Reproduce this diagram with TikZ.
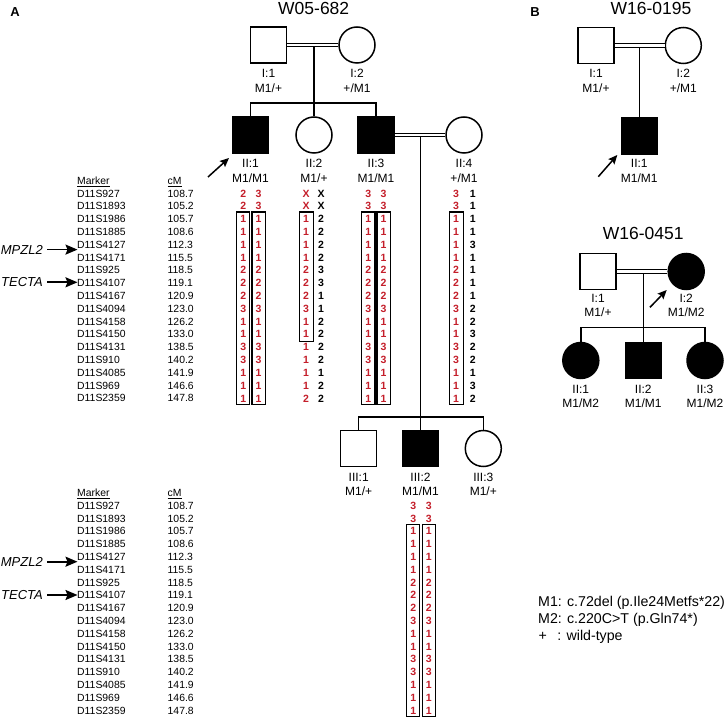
\documentclass[tikz,border=0pt]{standalone}
\usepackage{fontspec}
\setmainfont{Liberation Sans}
\usetikzlibrary{arrows.meta,calc}
\definecolor{alred}{RGB}{196,30,42}
\begin{document}
\begin{tikzpicture}[x=1pt,y=-1pt,
  sq/.style={draw, line width=1.5pt, rectangle, minimum size=36pt, inner sep=0pt},
  ci/.style={draw, line width=1.5pt, circle, minimum size=36pt, inner sep=0pt},
  aff/.style={fill=black},
  ln/.style={line width=1.5pt},
  mar/.style={double, double distance=2.2pt, line width=1.2pt},
  lb/.style={font=\fontsize{12}{14}\selectfont, inner sep=0pt, text height=8.6pt, text depth=0pt},
  mk/.style={font=\fontsize{10.4}{12}\selectfont, inner sep=0pt, anchor=west, text height=7.45pt, text depth=0pt},
  ar/.style={font=\fontsize{10.5}{12}\selectfont\bfseries, inner sep=0pt, text height=7.5pt, text depth=0pt, text=alred},
  ab/.style={font=\fontsize{10.5}{12}\selectfont\bfseries, inner sep=0pt, text height=7.5pt, text depth=0pt, text=black},
  hbox/.style={draw, line width=1.4pt},
  pa/.style={line width=1.5pt, -{Stealth[length=9pt,width=8pt,inset=1.5pt]}},
  ga/.style={line width=1.8pt, -{Stealth[length=12pt,width=10pt,inset=2pt]}},
  gene/.style={font=\fontsize{13}{15}\selectfont\itshape, inner sep=0pt, anchor=east, text height=9.3pt, text depth=0pt},
  ttl/.style={font=\fontsize{17.5}{20}\selectfont, inner sep=0pt, text height=12.5pt, text depth=0pt},
  pl/.style={font=\fontsize{13}{15}\selectfont\bfseries, inner sep=0pt, text height=9.4pt, text depth=0pt},
  lg/.style={font=\fontsize{14.2}{16}\selectfont, anchor=west, inner sep=0pt, text height=10.2pt, text depth=0pt}
]
\useasboundingbox (0,0) rectangle (726,719);

% ---------------- Panel A ----------------
\node[pl] (A) at (15,12) {A};
\node[ttl] (tA) at (313.7,8.7) {W05-682};

% generation I
\node[sq] (a11) at (268.5,45) {};
\node[ci] (a12) at (357,45) {};
\coordinate (am1) at (314,45);
\coordinate (as1) at (314,103);
\draw[ln] (am1) -- (as1);
\draw[mar] (a11.east) -- (a12.west);
\node[lb] (a11l) at (268.5,73.3) {I:1};
\node[lb] (a11g) at (268.5,88.3) {M1/+};
\node[lb] (a12l) at (357,73.3) {I:2};
\node[lb] (a12g) at (357,88.3) {+/M1};

% generation II
\node[sq,aff] (a21) at (250.5,135) {};
\node[ci] (a22) at (314,135) {};
\node[sq,aff] (a23) at (376,135) {};
\node[ci] (a24) at (464,135) {};
\draw[ln] (a21.north) |- (as1) -| (a23.north);
\draw[ln] (as1) -- (a22.north);
\coordinate (am2) at (420.5,135);
\coordinate (as2) at (420.5,417);
\draw[ln] (am2) -- (as2);
\draw[mar] (a23.east) -- (a24.west);
\node[lb] (a21l) at (250.5,163.3) {II:1};
\node[lb] (a21g) at (250.5,178.3) {M1/M1};
\node[lb] (a22l) at (314,163.3) {II:2};
\node[lb] (a22g) at (314,178.3) {M1/+};
\node[lb] (a23l) at (376,163.3) {II:3};
\node[lb] (a23g) at (376,178.3) {M1/M1};
\node[lb] (a24l) at (464,163.3) {II:4};
\node[lb] (a24g) at (464,178.3) {+/M1};
\coordinate (pa1s) at (208,177);
\coordinate (pa1e) at (229,158);
\draw[pa] (pa1s) -- (pa1e);

% generation III
\node[sq] (a31) at (358.7,448.5) {};
\node[sq,aff] (a32) at (420.5,448.5) {};
\node[ci] (a33) at (483.3,448.5) {};
\draw[ln] (a31.north) |- (as2) -| (a33.north);
\draw[ln] (as2) -- (a32.north);
\node[lb] (a31l) at (358.7,477) {III:1};
\node[lb] (a31g) at (358.7,491) {M1/+};
\node[lb] (a32l) at (420.5,477) {III:2};
\node[lb] (a32g) at (420.5,491) {M1/M1};
\node[lb] (a33l) at (483.3,477) {III:3};
\node[lb] (a33g) at (483.3,491) {M1/+};

% marker tables
\node[mk] (tmh) at (77,180.5) {\underline{Marker}};
\node[mk] (tch) at (167.5,180.5) {\underline{cM}};
\node[mk] (bmh) at (77,492.7) {\underline{Marker}};
\node[mk] (bch) at (167.5,492.7) {\underline{cM}};
\foreach \m/\c [count=\i from 0] in {D11S927/108.7,D11S1893/105.2,D11S1986/105.7,D11S1885/108.6,D11S4127/112.3,D11S4171/115.5,D11S925/118.5,D11S4107/119.1,D11S4167/120.9,D11S4094/123.0,D11S4158/126.2,D11S4150/133.0,D11S4131/138.5,D11S910/140.2,D11S4085/141.9,D11S969/146.6,D11S2359/147.8}{
  \node[mk] (tm\i) at ({77},{193.3+12.81*\i}) {\m};
  \node[mk] (tc\i) at ({167.5},{193.3+12.81*\i}) {\c};
  \node[mk] (bm\i) at ({77},{505.5+12.81*\i}) {\m};
  \node[mk] (bc\i) at ({167.5},{505.5+12.81*\i}) {\c};
}

% gene arrows
\node[gene] (g1) at (43,249.6) {MPZL2};
\coordinate (g1t) at (77.5,249.6);
\draw[ga, shorten <=4pt] (g1) -- (g1t);
\node[gene] (g2) at (43,282.3) {TECTA};
\coordinate (g2t) at (77.5,282.3);
\draw[ga, shorten <=4pt] (g2) -- (g2t);
\node[gene] (g3) at (43,561.7) {MPZL2};
\coordinate (g3t) at (77.5,561.7);
\draw[ga, shorten <=4pt] (g3) -- (g3t);
\node[gene] (g4) at (43,595) {TECTA};
\coordinate (g4t) at (77.5,595);
\draw[ga, shorten <=4pt] (g4) -- (g4t);

% haplotypes II:1
\foreach \v [count=\i from 0] in {2,2,1,1,1,1,2,2,2,3,1,1,3,3,1,1,1}
  \node[ar] (h1a\i) at ({243.3},{193.3+12.81*\i}) {\v};
\foreach \v [count=\i from 0] in {3,3,1,1,1,1,2,2,2,3,1,1,3,3,1,1,1}
  \node[ar] (h1b\i) at ({258.5},{193.3+12.81*\i}) {\v};
\draw[hbox] (236.3,212) rectangle (249.7,404.6);
\draw[hbox] (251.9,212) rectangle (265.2,404.6);

% haplotypes II:2
\foreach \v [count=\i from 0] in {X,X,1,1,1,1,2,2,2,3,1,1,1,1,1,1,2}
  \node[ar] (h2a\i) at ({306},{193.3+12.81*\i}) {\v};
\foreach \v [count=\i from 0] in {X,X,2,2,2,2,3,3,1,1,2,2,2,2,1,2,2}
  \node[ab] (h2b\i) at ({321},{193.3+12.81*\i}) {\v};
\draw[hbox] (299.3,212) rectangle (313.3,341.3);

% haplotypes II:3
\foreach \v [count=\i from 0] in {3,3,1,1,1,1,2,2,2,3,1,1,3,3,1,1,1}{
  \node[ar] (h3a\i) at ({368.3},{193.3+12.81*\i}) {\v};
  \node[ar] (h3b\i) at ({383.5},{193.3+12.81*\i}) {\v};
}
\draw[hbox] (361.7,212) rectangle (375.1,404.6);
\draw[hbox] (376.9,212) rectangle (390.7,404.6);

% haplotypes II:4
\foreach \v [count=\i from 0] in {3,3,1,1,1,1,2,2,2,3,1,1,3,3,1,1,1}
  \node[ar] (h4a\i) at ({456},{193.3+12.81*\i}) {\v};
\foreach \v [count=\i from 0] in {1,1,1,1,3,1,1,1,1,2,2,3,2,2,1,3,2}
  \node[ab] (h4b\i) at ({472.7},{193.3+12.81*\i}) {\v};
\draw[hbox] (449.3,212) rectangle (463.3,404.6);

% haplotypes III:2
\foreach \v [count=\i from 0] in {3,3,1,1,1,1,2,2,2,3,1,1,3,3,1,1,1}{
  \node[ar] (h5a\i) at ({413.3},{505.5+12.81*\i}) {\v};
  \node[ar] (h5b\i) at ({428.7},{505.5+12.81*\i}) {\v};
}
\draw[hbox] (406.2,524.3) rectangle (419.4,716.7);
\draw[hbox] (422.3,524.3) rectangle (435.5,716.7);

% ---------------- Panel B ----------------
\node[pl] (B) at (535,12) {B};
\node[ttl] (tB1) at (651,8.7) {W16-0195};
\node[sq] (b11) at (596,45.5) {};
\node[ci] (b12) at (683.3,45.5) {};
\coordinate (bm1) at (639.3,45.5);
\node[sq,aff] (b21) at (639.3,136) {};
\draw[ln] (bm1) -- (b21.north);
\draw[mar] (b11.east) -- (b12.west);
\node[lb] (b11l) at (596,73.3) {I:1};
\node[lb] (b11g) at (596,88.6) {M1/+};
\node[lb] (b12l) at (683.3,73.3) {I:2};
\node[lb] (b12g) at (683.3,88.6) {+/M1};
\node[lb] (b21l) at (639.3,163.3) {II:1};
\node[lb] (b21g) at (639.3,178.3) {M1/M1};
\coordinate (pb1s) at (598.3,176.7);
\coordinate (pb1e) at (617.3,155);
\draw[pa] (pb1s) -- (pb1e);

\node[ttl] (tB2) at (643.3,233.3) {W16-0451};
\node[sq] (c11) at (598,271.5) {};
\node[ci,aff] (c12) at (686.2,271.5) {};
\coordinate (cm1) at (643.3,271.5);
\coordinate (cs1) at (643.3,327.7);
\draw[ln] (cm1) -- (cs1);
\draw[mar] (c11.east) -- (c12.west);
\node[ci,aff] (c21) at (580.8,360.5) {};
\node[sq,aff] (c22) at (643.3,360.5) {};
\node[ci,aff] (c23) at (705,360.5) {};
\draw[ln] (c21.north) |- (cs1) -| (c23.north);
\draw[ln] (cs1) -- (c22.north);
\node[lb] (c11l) at (598,298.3) {I:1};
\node[lb] (c11g) at (598,312.5) {M1/+};
\node[lb] (c12l) at (686.2,298.3) {I:2};
\node[lb] (c12g) at (686.2,312.5) {M1/M2};
\node[lb] (c21l) at (580.8,389.3) {II:1};
\node[lb] (c21g) at (580.8,403.3) {M1/M2};
\node[lb] (c22l) at (643.3,389.3) {II:2};
\node[lb] (c22g) at (643.3,403.3) {M1/M1};
\node[lb] (c23l) at (705,389.3) {II:3};
\node[lb] (c23g) at (705,403.3) {M1/M2};
\coordinate (pc1s) at (650,307.3);
\coordinate (pc1e) at (666.7,290);
\draw[pa] (pc1s) -- (pc1e);

% legend
\node[lg] (lg1) at (538,601.7) {M1: c.72del (p.Ile24Metfs*22)};
\node[lg] (lg2) at (538,618.3) {M2: c.220C>T (p.Gln74*)};
\node[lg] (lg3a) at (538.5,635) {+};
\node[lg] (lg3b) at (557.2,635) {: wild-type};
\end{tikzpicture}
\end{document}
